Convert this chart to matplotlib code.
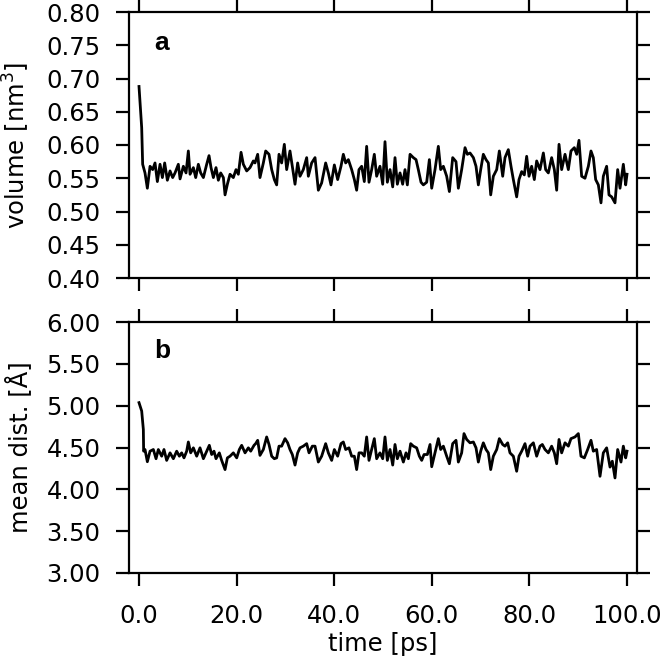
import matplotlib
matplotlib.use("Agg")
import matplotlib.pyplot as plt
import numpy as np

# ---- data ----
time_a = [0.0, 0.55, 0.75, 1.23, 1.71, 2.26, 2.80, 3.28, 3.76, 4.31, 4.79, 5.26, 5.81, 6.36, 6.90, 7.38,
          8.06, 8.41, 9.09, 9.64, 10.11, 10.46, 11.14, 11.62, 12.16, 12.64, 13.19, 13.87, 14.35, 14.76,
          15.24, 15.78, 16.26, 16.74, 17.29, 17.63, 18.11, 18.65, 19.33, 19.88, 20.36, 20.91, 21.38,
          22.07, 22.75, 23.43,
          23.77, 24.32, 24.79, 25.48, 25.96, 26.64, 27.19, 27.73, 28.21, 28.69, 29.23, 29.78, 30.26,
          30.94, 31.42, 31.97, 32.51, 32.99, 33.67, 34.36, 34.70, 35.38, 36.07, 36.75, 37.43, 38.25,
          38.80, 39.34, 40.03, 40.71, 41.39, 41.87, 42.35, 42.90, 43.58, 44.13, 44.60, 45.08, 45.63,
          46.17, 46.65, 47.13, 47.68, 48.22, 48.70, 49.38,
          49.94, 50.41, 50.89, 51.44, 51.99, 52.46, 52.94, 53.49, 54.03, 54.51, 54.99, 55.54, 56.22,
          56.77, 57.24, 57.79, 58.27, 58.95, 59.50, 59.98, 60.66, 61.34, 61.82, 62.37, 63.05, 63.60,
          64.28, 64.96, 65.44, 66.12, 66.81, 67.29, 67.83, 68.52, 69.06, 69.54, 70.02, 70.56, 71.11,
          71.59, 72.07, 72.61, 73.30, 73.84, 74.53,
          75.00, 75.68, 76.23, 76.71, 77.39, 77.87, 78.42, 78.96, 79.44, 79.92, 80.46, 81.01, 81.49,
          82.17, 82.86, 83.33, 83.88, 84.56, 85.11, 85.59, 86.07, 86.61, 87.30, 87.98, 88.52, 89.21,
          89.69, 90.16, 90.71, 91.39, 92.08, 92.62, 93.10, 93.58, 94.13, 94.67, 95.15, 95.83, 96.31,
          96.86, 97.54, 98.09, 98.57, 99.25, 99.73, 100.0]
volume = [0.688, 0.626, 0.571, 0.558, 0.535, 0.568, 0.563, 0.573, 0.545, 0.571, 0.551, 0.573, 0.547, 0.561,
          0.551, 0.558, 0.571, 0.549, 0.568, 0.558, 0.591, 0.556, 0.566, 0.551, 0.571, 0.558, 0.551,
          0.571, 0.584, 0.566, 0.551, 0.566, 0.547, 0.558, 0.551, 0.525, 0.541, 0.556, 0.551, 0.563,
          0.556, 0.589, 0.571, 0.561, 0.566, 0.576,
          0.573, 0.586, 0.551, 0.573, 0.591, 0.586, 0.563, 0.548, 0.540, 0.586, 0.573, 0.601, 0.563,
          0.591, 0.568, 0.541, 0.573, 0.553, 0.563, 0.581, 0.553, 0.573, 0.581, 0.532, 0.543, 0.573,
          0.558, 0.540, 0.570, 0.548, 0.568, 0.586, 0.573, 0.578, 0.563, 0.548, 0.532, 0.563, 0.568,
          0.545, 0.598, 0.544, 0.563, 0.586, 0.553, 0.568,
          0.541, 0.605, 0.544, 0.563, 0.537, 0.581, 0.541, 0.558, 0.541, 0.563, 0.540, 0.586, 0.581,
          0.578, 0.563, 0.544, 0.540, 0.544, 0.578, 0.535, 0.563, 0.598, 0.563, 0.568, 0.553, 0.530,
          0.581, 0.575, 0.535, 0.563, 0.596, 0.586, 0.588, 0.581, 0.568, 0.540, 0.563, 0.586, 0.578,
          0.573, 0.525, 0.553, 0.563, 0.591, 0.553,
          0.581, 0.593, 0.568, 0.548, 0.522, 0.548, 0.560, 0.555, 0.583, 0.553, 0.568, 0.548, 0.576,
          0.563, 0.588, 0.563, 0.558, 0.581, 0.563, 0.532, 0.601, 0.563, 0.586, 0.563, 0.591, 0.596,
          0.586, 0.607, 0.553, 0.550, 0.568, 0.591, 0.581, 0.548, 0.540, 0.513, 0.553, 0.568, 0.525,
          0.522, 0.513, 0.563, 0.535, 0.571, 0.540, 0.556]

time_b = [0.0, 0.55, 0.89, 0.95, 1.23, 1.71, 2.26, 2.94, 3.49, 3.96, 4.65, 5.12, 5.67, 6.36, 7.04, 7.72,
          8.27, 8.74, 9.22, 9.77, 10.11, 10.59, 11.14, 11.82, 12.50, 13.19, 13.87, 14.41, 14.89, 15.37,
          15.78, 16.46, 16.94, 17.63, 18.11, 18.65, 19.33, 20.02, 20.56, 21.04, 21.73, 22.41, 22.89,
          23.57,
          23.90, 24.32, 24.79, 25.48, 26.16, 26.64, 27.19, 27.73, 28.21, 28.69, 29.23, 29.92, 30.46,
          30.94, 31.42, 31.97, 32.51, 32.99, 33.67, 34.36, 34.84, 35.52, 36.07, 36.75, 37.43, 38.25,
          38.80, 39.48, 40.03, 40.71, 41.39, 41.87, 42.35, 43.03, 43.58, 44.13, 44.60, 45.08, 45.63,
          46.17, 46.65, 47.13, 47.68, 48.22, 48.70, 49.38,
          49.94, 50.41, 50.89, 51.44, 51.99, 52.46, 52.94, 53.49, 54.17, 54.72, 55.20, 55.67, 56.22,
          56.90, 57.45, 57.93, 58.41, 59.09, 59.64, 59.98, 60.66, 61.34, 61.82, 62.37, 63.05, 63.60,
          64.28, 64.96, 65.44, 66.12, 66.60, 67.15, 67.83, 68.52, 69.06, 69.54, 70.02, 70.56, 71.11,
          71.59, 72.07, 72.61, 73.30, 73.84, 74.53,
          75.00, 75.55, 76.02, 76.71, 77.39, 77.87, 78.42, 79.10, 79.64, 80.12, 80.81, 81.49, 82.17,
          82.65, 83.20, 83.88, 84.56, 85.11, 85.59, 86.07, 86.61, 87.30, 87.98, 88.52, 89.34, 90.03,
          90.57, 91.26, 91.94, 92.62, 93.10, 93.78, 94.47, 95.15, 95.83, 96.52, 96.99, 97.54, 98.09,
          98.77, 99.25, 99.73, 100.0]
mean_dist = [5.036, 4.936, 4.716, 4.456, 4.476, 4.330, 4.456, 4.476, 4.366, 4.476, 4.396, 4.476, 4.346,
             4.436, 4.366, 4.456, 4.396, 4.436, 4.376, 4.456, 4.566, 4.436, 4.496, 4.396, 4.496, 4.366,
             4.456, 4.526, 4.416, 4.456, 4.366, 4.436, 4.346, 4.236, 4.376, 4.396, 4.436, 4.376, 4.476,
             4.526, 4.436, 4.496, 4.456, 4.526,
             4.546, 4.586, 4.406, 4.476, 4.626, 4.536, 4.396, 4.366, 4.376, 4.516, 4.516, 4.606, 4.556,
             4.476, 4.416, 4.290, 4.436, 4.496, 4.516, 4.546, 4.436, 4.516, 4.516, 4.326, 4.396, 4.546,
             4.436, 4.346, 4.476, 4.396, 4.546, 4.566, 4.476, 4.496, 4.396, 4.396, 4.236, 4.436, 4.436,
             4.396, 4.626, 4.346, 4.476, 4.606, 4.366, 4.436,
             4.366, 4.626, 4.346, 4.476, 4.290, 4.536, 4.366, 4.456, 4.326, 4.436, 4.366, 4.546, 4.516,
             4.496, 4.396, 4.346, 4.416, 4.416, 4.536, 4.270, 4.436, 4.606, 4.476, 4.516, 4.396, 4.306,
             4.546, 4.586, 4.326, 4.436, 4.666, 4.596, 4.556, 4.566, 4.496, 4.326, 4.456, 4.556, 4.476,
             4.436, 4.236, 4.396, 4.476, 4.606, 4.536,
             4.516, 4.556, 4.436, 4.396, 4.216, 4.396, 4.456, 4.546, 4.396, 4.516, 4.556, 4.396, 4.516,
             4.536, 4.476, 4.436, 4.516, 4.436, 4.306, 4.596, 4.436, 4.556, 4.516, 4.606, 4.626, 4.666,
             4.396, 4.376, 4.476, 4.586, 4.456, 4.476, 4.156, 4.436, 4.496, 4.266, 4.336, 4.136, 4.476,
             4.326, 4.516, 4.376, 4.456]

xticks = [0.0, 20.0, 40.0, 60.0, 80.0, 100.0]
yticks_a = [0.40, 0.45, 0.50, 0.55, 0.60, 0.65, 0.70, 0.75, 0.80]
yticks_b = [3.00, 3.50, 4.00, 4.50, 5.00, 5.50, 6.00]
panel_labels = ["a", "b"]

# ---- figure ----
plt.rcParams['font.family'] = ['DejaVu Sans']
fig = plt.figure(figsize=(6.61, 6.59), dpi=100)
W, H = 661, 659
ax_a = fig.add_axes([129 / W, 1 - 278 / H, (637 - 129) / W, (278 - 12) / H])
ax_b = fig.add_axes([129 / W, 1 - 573 / H, (637 - 129) / W, (573 - 322) / H])

ax_a.plot(time_a, volume, color='black', lw=2.0)
ax_b.plot(time_b, mean_dist, color='black', lw=2.0)

fs = 17.5
for ax, yt, lab in [(ax_a, yticks_a, panel_labels[0]), (ax_b, yticks_b, panel_labels[1])]:
    ax.set_xlim(-2.05, 102.05)
    ax.set_ylim(yt[0], yt[-1])
    ax.set_yticks(yt)
    ax.set_yticklabels([f"{v:.2f}" for v in yt], fontsize=fs)
    ax.set_xticks(xticks)
    ax.tick_params(axis='both', which='major', direction='out', length=9.5, width=1.6,
                   top=True, right=True, bottom=True, left=True, labelsize=fs)
    ax.tick_params(axis='y', pad=11)
    ax.tick_params(axis='x', pad=13)
    for sp in ax.spines.values():
        sp.set_linewidth(1.6)
    ax.text(0.05, 0.857, lab, transform=ax.transAxes, fontsize=19, fontweight='bold',
            family='Liberation Sans', va='baseline', ha='left')

ax_a.set_xticklabels([])
ax_b.set_xticklabels([f"{v:.1f}" for v in xticks], fontsize=fs)
ax_a.set_ylabel("volume [nm$^3$]", fontsize=fs, labelpad=10)
ax_b.set_ylabel("mean dist. [Å]", fontsize=fs, labelpad=10)
ax_b.set_xlabel("time [ps]", fontsize=fs, labelpad=3)

fig.savefig("out.png", dpi=100)
